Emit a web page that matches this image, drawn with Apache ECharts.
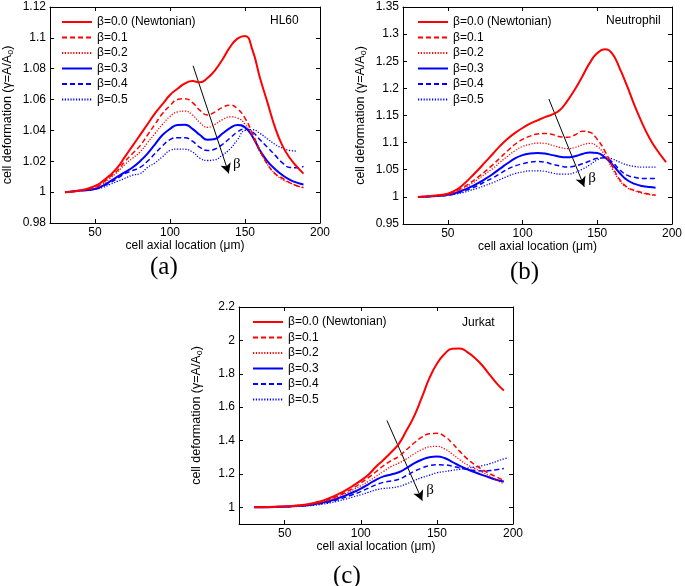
<!DOCTYPE html>
<html>
<head>
<meta charset="utf-8">
<script src="https://cdn.jsdelivr.net/npm/echarts@6/dist/echarts.min.js"></script>
<style>
html,body{margin:0;padding:0;background:#fff;}
#chart{width:685px;height:586px;}
</style>
</head>
<body>
<div id="chart"></div>
<script>
// ---------- data ----------
const seriesNames = ['β=0.0 (Newtonian)', 'β=0.1', 'β=0.2', 'β=0.3', 'β=0.4', 'β=0.5'];
const xTicks = [50, 100, 150, 200];

// Panel (a) HL60
const xA = [30,40,50,55,60,65,70,75,80,85,90,95,100,105,110,115,120,125,130,135,140,145,150,155,160,165,170,175,180,185,189];
const a0 = [1.000,1.001,1.004,1.007,1.011,1.016,1.023,1.030,1.037,1.044,1.051,1.057,1.063,1.067,1.0705,1.072,1.0712,1.074,1.079,1.086,1.094,1.0995,1.1012,1.092,1.074,1.058,1.042,1.030,1.022,1.016,1.012];
const a1 = [1.000,1.001,1.003,1.006,1.010,1.014,1.020,1.025,1.030,1.037,1.044,1.051,1.056,1.060,1.0605,1.058,1.053,1.050,1.052,1.055,1.0564,1.054,1.048,1.038,1.027,1.018,1.012,1.009,1.006,1.004,1.003];
const a2 = [1.000,1.001,1.003,1.005,1.009,1.013,1.018,1.022,1.026,1.032,1.038,1.044,1.049,1.052,1.0525,1.050,1.045,1.042,1.044,1.047,1.0488,1.048,1.044,1.036,1.026,1.018,1.012,1.008,1.006,1.004,1.003];
const a3 = [1.000,1.001,1.002,1.004,1.007,1.010,1.013,1.016,1.020,1.025,1.031,1.037,1.041,1.0435,1.0437,1.041,1.037,1.034,1.0345,1.038,1.0415,1.0435,1.042,1.036,1.027,1.020,1.015,1.011,1.008,1.006,1.005];
const a4 = [1.000,1.001,1.002,1.004,1.006,1.009,1.012,1.014,1.016,1.020,1.025,1.030,1.034,1.0353,1.0352,1.033,1.029,1.027,1.028,1.031,1.035,1.039,1.041,1.039,1.034,1.029,1.024,1.019,1.016,1.0158,1.0167];
const a5 = [1.000,1.001,1.002,1.003,1.005,1.007,1.009,1.011,1.012,1.016,1.019,1.023,1.027,1.0279,1.0278,1.026,1.022,1.0205,1.021,1.024,1.028,1.034,1.040,1.0405,1.038,1.0345,1.031,1.0285,1.027,1.0266,null];
const yTicksA = [0.98,1,1.02,1.04,1.06,1.08,1.1,1.12];

// Panel (b) Neutrophil
const xB = [30,40,50,55,60,65,70,75,80,85,90,95,100,105,110,115,120,125,130,135,140,145,150,155,160,165,170,175,180,185,189,196];
const b0 = [1.000,1.002,1.006,1.012,1.022,1.035,1.049,1.064,1.079,1.094,1.107,1.118,1.127,1.135,1.141,1.147,1.152,1.160,1.177,1.198,1.222,1.247,1.265,1.272,1.264,1.237,1.204,1.168,1.136,1.108,1.090,1.064];
const b1 = [1.000,1.002,1.005,1.010,1.017,1.026,1.036,1.047,1.059,1.072,1.085,1.097,1.106,1.112,1.116,1.117,1.115,1.111,1.110,1.114,1.121,1.119,1.106,1.085,1.057,1.032,1.018,1.012,1.008,1.005,1.003,null];
const b2 = [1.000,1.002,1.004,1.009,1.015,1.023,1.032,1.042,1.052,1.064,1.075,1.085,1.093,1.097,1.099,1.0985,1.095,1.091,1.089,1.091,1.096,1.0985,1.093,1.077,1.052,1.030,1.017,1.011,1.007,1.004,1.003,null];
const b3 = [1.000,1.001,1.004,1.007,1.012,1.018,1.025,1.033,1.042,1.052,1.062,1.071,1.077,1.080,1.081,1.080,1.077,1.074,1.073,1.075,1.079,1.082,1.081,1.073,1.060,1.044,1.031,1.024,1.020,1.018,1.017,null];
const b4 = [1.000,1.001,1.003,1.006,1.010,1.015,1.021,1.028,1.035,1.043,1.051,1.057,1.061,1.064,1.065,1.064,1.060,1.057,1.055,1.057,1.061,1.066,1.071,1.072,1.064,1.050,1.040,1.036,1.034,1.034,1.034,null];
const b5 = [1.000,1.001,1.003,1.005,1.008,1.012,1.016,1.021,1.026,1.032,1.038,1.043,1.046,1.048,1.048,1.047,1.044,1.042,1.042,1.045,1.051,1.059,1.068,1.073,1.070,1.064,1.059,1.056,1.055,1.055,1.055,null];
const yTicksB = [0.95,1,1.05,1.1,1.15,1.2,1.25,1.3,1.35];

// Panel (c) Jurkat
const xC = [30,40,50,55,60,65,70,75,80,85,90,95,100,105,110,115,120,125,130,135,140,145,150,155,160,165,170,175,180,185,190,194,197];
const c0 = [1.000,1.002,1.006,1.008,1.012,1.018,1.028,1.040,1.057,1.078,1.102,1.130,1.160,1.195,1.243,1.285,1.330,1.380,1.460,1.545,1.655,1.772,1.860,1.918,1.950,1.952,1.930,1.895,1.848,1.790,1.735,1.700,null];
const c1 = [1.000,1.002,1.005,1.007,1.011,1.016,1.024,1.035,1.050,1.068,1.090,1.115,1.145,1.178,1.213,1.250,1.280,1.305,1.345,1.385,1.420,1.440,1.443,1.425,1.385,1.335,1.290,1.255,1.225,1.200,1.178,1.160,null];
const c2 = [1.000,1.002,1.005,1.007,1.010,1.015,1.022,1.032,1.045,1.062,1.082,1.105,1.128,1.155,1.185,1.215,1.245,1.265,1.290,1.320,1.345,1.362,1.365,1.350,1.320,1.285,1.255,1.232,1.210,1.185,1.160,1.140,null];
const c3 = [1.000,1.001,1.004,1.006,1.009,1.013,1.019,1.028,1.040,1.054,1.071,1.090,1.112,1.138,1.165,1.185,1.197,1.210,1.235,1.263,1.285,1.300,1.304,1.295,1.272,1.248,1.228,1.210,1.193,1.177,1.162,1.154,null];
const c4 = [1.000,1.001,1.003,1.005,1.008,1.012,1.017,1.024,1.034,1.046,1.061,1.077,1.094,1.115,1.135,1.150,1.158,1.168,1.190,1.215,1.235,1.250,1.255,1.254,1.247,1.236,1.226,1.220,1.218,1.220,1.227,1.232,null];
const c5 = [1.000,1.001,1.003,1.004,1.006,1.009,1.013,1.019,1.027,1.037,1.049,1.062,1.075,1.090,1.105,1.113,1.117,1.125,1.140,1.160,1.178,1.192,1.207,1.214,1.221,1.228,1.235,1.242,1.250,1.262,1.278,1.290,1.296];
const yTicksC = [1,1.2,1.4,1.6,1.8,2,2.2];

// arrows [x1,y1,x2,y2] and beta label positions
const arrowA = [115.4, 1.0819, 139.2, 1.0121];
const betaA = [144.5, 1.018];
const arrowB = [117.6, 1.1805, 141.3, 1.0185];
const betaB = [146.5, 1.034];
const arrowC = [117.2, 1.52, 140.4, 1.04];
const betaC = [145.5, 1.105];

// ---------- build ----------
const FONT = '"Liberation Sans", Arial, Helvetica, sans-serif';
const lineStyles = [
  {color:'#ff0000', type:'solid', width:2},
  {color:'#ff0000', type:[5,3], width:1.5},
  {color:'#ff0000', type:[1.2,1.6], width:1.3},
  {color:'#0000ff', type:'solid', width:2},
  {color:'#0000ff', type:[5,3], width:1.5},
  {color:'#0000ff', type:[1.2,1.6], width:1.3}
];

const panels = [
  {xs:xA, ys:[a0,a1,a2,a3,a4,a5], ymin:0.98, ymax:1.12, yt:yTicksA, arrow:arrowA, beta:betaA},
  {xs:xB, ys:[b0,b1,b2,b3,b4,b5], ymin:0.95, ymax:1.35, yt:yTicksB, arrow:arrowB, beta:betaB},
  {xs:xC, ys:[c0,c1,c2,c3,c4,c5], ymin:0.9, ymax:2.2, yt:yTicksC, arrow:arrowC, beta:betaC}
];
const grids = [
  {left:48, top:7, width:272, height:216},
  {left:403, top:7, width:270, height:217},
  {left:239, top:307, width:274, height:217}
];

const axisLine = {show:true, onZero:false, lineStyle:{color:'#000', width:1}};
const xAxis = [], yAxis = [], series = [];
panels.forEach((p, i) => {
  xAxis.push({
    type:'value', gridIndex:i, min:20, max:200, position:'bottom',
    axisLine, splitLine:{show:false},
    axisTick:{show:true, inside:true, length:4, customValues:xTicks, lineStyle:{color:'#000'}},
    axisLabel:{show:true, customValues:xTicks, color:'#000', fontFamily:FONT, fontSize:12, margin:4},
    name:'cell axial location (μm)', nameLocation:'middle', nameGap:17,
    nameTextStyle:{color:'#000', fontFamily:FONT, fontSize:12}
  });
  xAxis.push({
    type:'value', gridIndex:i, min:20, max:200, position:'top',
    axisLine, splitLine:{show:false},
    axisTick:{show:true, inside:true, length:4, customValues:xTicks, lineStyle:{color:'#000'}},
    axisLabel:{show:false}
  });
  yAxis.push({
    type:'value', gridIndex:i, min:p.ymin, max:p.ymax, position:'left',
    axisLine, splitLine:{show:false},
    axisTick:{show:true, inside:true, length:4, customValues:p.yt, lineStyle:{color:'#000'}},
    axisLabel:{show:true, customValues:p.yt, color:'#000', fontFamily:FONT, fontSize:12, margin:4},
    name:'cell deformation (γ=A/A{s|o})', nameLocation:'middle', nameGap:35, nameRotate:90,
    nameTextStyle:{color:'#000', fontFamily:FONT, fontSize:12.5,
      rich:{s:{fontSize:9, fontFamily:FONT, color:'#000', padding:[6,0,0,0]}}}
  });
  yAxis.push({
    type:'value', gridIndex:i, min:p.ymin, max:p.ymax, position:'right',
    axisLine, splitLine:{show:false},
    axisTick:{show:true, inside:true, length:4, customValues:p.yt, lineStyle:{color:'#000'}},
    axisLabel:{show:false}
  });
  p.ys.forEach((ys, k) => {
    const s = {
      name:seriesNames[k], type:'line', xAxisIndex:2*i, yAxisIndex:2*i,
      data:p.xs.map((x, j) => [x, ys[j]]),
      symbol:'none', smooth:0.5, lineStyle:lineStyles[k], itemStyle:{color:lineStyles[k].color},
      z:10-k, silent:true, animation:false
    };
    if (k === 0) {
      s.markLine = {
        silent:true, animation:false, symbol:['none','arrow'], symbolSize:[8,10],
        lineStyle:{color:'#000', width:1, type:'solid'}, label:{show:false},
        data:[[{coord:[p.arrow[0], p.arrow[1]]}, {coord:[p.arrow[2], p.arrow[3]]}]]
      };
      s.markPoint = {
        silent:true, animation:false, symbol:'circle', symbolSize:0,
        label:{show:true, formatter:'β', color:'#000', fontSize:15, fontFamily:'"Liberation Serif", "DejaVu Serif", serif', position:'inside'},
        data:[{coord:p.beta}]
      };
    }
    series.push(s);
  });
});

const legendBase = {
  orient:'vertical', itemWidth:30, itemHeight:10, itemGap:3.5, selectedMode:false,
  itemStyle:{opacity:0},
  data:seriesNames, textStyle:{color:'#000', fontFamily:FONT, fontSize:12}
};
const legend = [
  Object.assign({}, legendBase, {left:56, top:11}),
  Object.assign({}, legendBase, {left:412, top:11}),
  Object.assign({}, legendBase, {left:247, top:311})
];

const serifFont = '"Liberation Serif", "DejaVu Serif", serif';
const graphic = [
  {type:'text', left:270, top:15, style:{text:'HL60', font:'12px ' + FONT, fill:'#000'}},
  {type:'text', left:606, top:15, style:{text:'Neutrophil', font:'12px ' + FONT, fill:'#000'}},
  {type:'text', left:462, top:317, style:{text:'Jurkat', font:'12px ' + FONT, fill:'#000'}},
  {type:'text', left:150, top:255, style:{text:'(a)', font:'25px ' + serifFont, fill:'#000'}},
  {type:'text', left:510, top:260, style:{text:'(b)', font:'25px ' + serifFont, fill:'#000'}},
  {type:'text', left:333, top:564, style:{text:'(c)', font:'25px ' + serifFont, fill:'#000'}}
];

const chart = echarts.init(document.getElementById('chart'), null, {renderer:'canvas'});
chart.setOption({
  animation:false, backgroundColor:'#fff',
  grid:grids, xAxis, yAxis, series, legend, graphic
});
</script>
</body>
</html>
